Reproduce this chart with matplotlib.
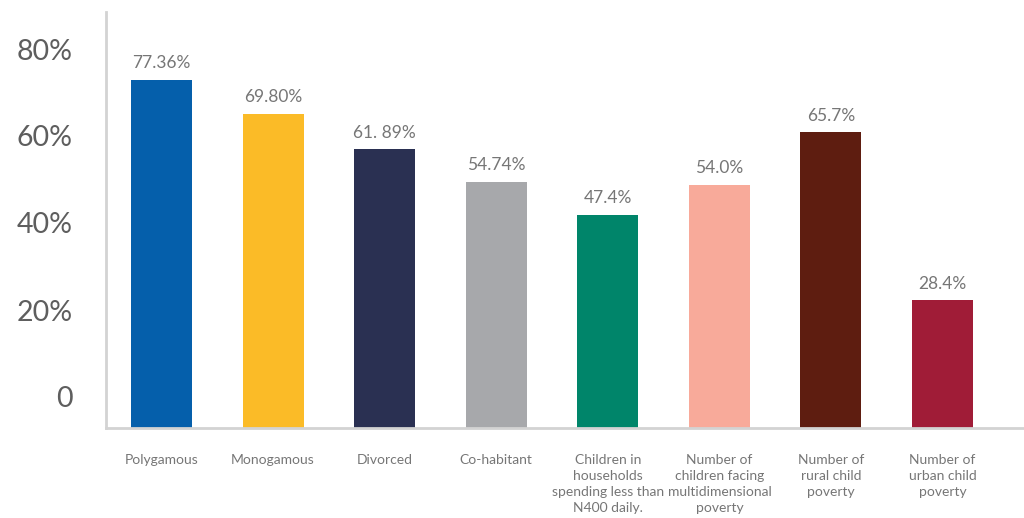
import numpy as np
import matplotlib.pyplot as plt

categories = ['Polygamous', 'Monogamous', 'Divorced', 'Co-habitant',
              'Children in\nhouseholds\nspending less than\nN400 daily.',
              'Number of\nchildren facing\nmultidimensional\npoverty',
              'Number of\nrural child\npoverty',
              'Number of\nurban child\npoverty']
values = [77.36, 69.80, 61.89, 54.74, 47.4, 54.0, 65.7, 28.4]
value_labels = ['77.36%', '69.80%', '61. 89%', '54.74%', '47.4%', '54.0%', '65.7%', '28.4%']
colors = ['#055fab', '#fbbb27', '#2a3052', '#a7a8ab',
          '#00856a', '#f8aa9a', '#5e1d10', '#a01c37']
# tick labels as drawn in the original (offset from the bar baseline)
ytick_pos = [6.9, 26.2, 45.6, 64.9, 84.2]
ytick_labels = ['0', '20%', '40%', '60%', '80%']

plt.rcParams['font.family'] = ['Lato', 'DejaVu Sans']

fig = plt.figure(figsize=(10.24, 5.18), dpi=100)
ax = fig.add_axes([106 / 1024, 90 / 518, 918 / 1024, 416 / 518])

x = np.arange(len(categories))
bars = ax.bar(x, values, width=0.547, color=colors, zorder=2)

for b, lab in zip(bars, value_labels):
    ax.annotate(lab, (b.get_x() + b.get_width() / 2, b.get_height()),
                xytext=(0, 12), textcoords='offset points',
                ha='center', va='center', fontsize=12.5, color='#767676')

ax.set_xlim(-0.497, 7.73)
ax.set_ylim(0, 416 / 4.5)

ax.set_xticks(x)
ax.set_xticklabels(categories, fontsize=10, color='#767676', linespacing=1.4)
ax.set_yticks(ytick_pos)
ax.set_yticklabels(ytick_labels, fontsize=20.5, color='#5e5e5e')
ax.tick_params(axis='x', length=0, pad=19)
ax.tick_params(axis='y', length=0, pad=24)

for s in ['top', 'right']:
    ax.spines[s].set_visible(False)
for s in ['left', 'bottom']:
    ax.spines[s].set_color('#d3d3d3')
    ax.spines[s].set_linewidth(2)

fig.savefig('out.png', dpi=100)
